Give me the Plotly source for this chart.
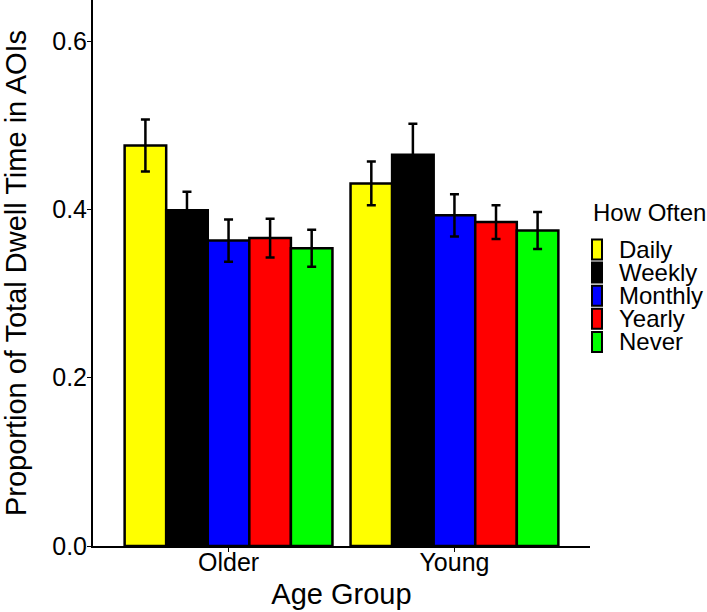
import plotly.graph_objects as go

# data
age_groups = ["Older", "Young"]
how_often = ["Daily", "Weekly", "Monthly", "Yearly", "Never"]
means = {
    "Daily":   [0.476, 0.431],
    "Weekly":  [0.399, 0.465],
    "Monthly": [0.363, 0.393],
    "Yearly":  [0.366, 0.385],
    "Never":   [0.354, 0.375],
}
errors = {
    "Daily":   [0.031, 0.026],
    "Weekly":  [0.022, 0.037],
    "Monthly": [0.025, 0.025],
    "Yearly":  [0.023, 0.020],
    "Never":   [0.022, 0.022],
}
colors = ["#FFFF00", "#000000", "#0000FF", "#FF0000", "#00FF00"]

FONT = "Liberation Sans, Arial, sans-serif"
W, H = 707, 612
ML, MR, MT, MB = 93, 117, 0, 66
PW, PH = W - ML - MR, H - MT - MB

def px_x(x):
  # pixel -> paper x
  return (x - ML) / PW

def px_y(y):
  # pixel -> paper y
  return (H - MB - y) / PH

fig = go.Figure()
for name, col in zip(how_often, colors):
  fig.add_trace(go.Bar(
      x=age_groups,
      y=means[name],
      name=name,
      marker=dict(color=col, line=dict(color="black", width=2.5)),
      error_y=dict(type="data", array=errors[name], color="black",
                   thickness=2.5, width=4.5),
      showlegend=False,
  ))

# legend drawn by hand (ggplot style: stacked keys, tight spacing)
fig.add_annotation(text="How Often", xref="paper", yref="paper",
                   x=px_x(591), y=px_y(213), xanchor="left", yanchor="middle",
                   showarrow=False, font=dict(size=24, family=FONT, color="black"))
for i, (name, col) in enumerate(zip(how_often, colors)):
  cy = 249.5 + 23.1 * i
  fig.add_shape(type="rect", xref="paper", yref="paper",
                x0=px_x(592), x1=px_x(602), y0=px_y(cy - 10), y1=px_y(cy + 10),
                fillcolor=col, line=dict(color="black", width=2))
  fig.add_annotation(text=name, xref="paper", yref="paper",
                     x=px_x(617), y=px_y(cy), xanchor="left", yanchor="middle",
                     showarrow=False, font=dict(size=24, family=FONT, color="black"))

fig.update_layout(
  barmode="group",
  bargap=0.08,
  bargroupgap=0,
  width=W,
  height=H,
  margin=dict(l=ML, r=MR, t=MT, b=MB, autoexpand=False),
  plot_bgcolor="white",
  paper_bgcolor="white",
  font=dict(family=FONT, color="black"),
  showlegend=False,
)
fig.update_xaxes(
  title=dict(text="Age Group", font=dict(size=29), standoff=9),
  tickfont=dict(size=25),
  showline=True, linecolor="black", linewidth=2,
  ticks="outside", ticklen=4, tickcolor="black",
  ticklabelstandoff=-11,
  range=[-0.6, 1.6],
  showgrid=False,
  automargin=False,
)
fig.update_yaxes(
  title=dict(text="Proportion of Total Dwell Time in AOIs", font=dict(size=29), standoff=19),
  tickfont=dict(size=25),
  tickvals=[0.0, 0.2, 0.4, 0.6],
  ticktext=["0.0", "0.2", "0.4", "0.6"],
  range=[0, 0.649],
  showline=True, linecolor="black", linewidth=2,
  ticks="outside", ticklen=4, tickcolor="black",
  ticklabelstandoff=-5,
  showgrid=False, zeroline=False,
  automargin=False,
)

# drop the browser's default 8px body margin so the figure fills the window
fig.write_html("out.html", config={"displayModeBar": False},
               post_script="document.body.style.margin='0';")
